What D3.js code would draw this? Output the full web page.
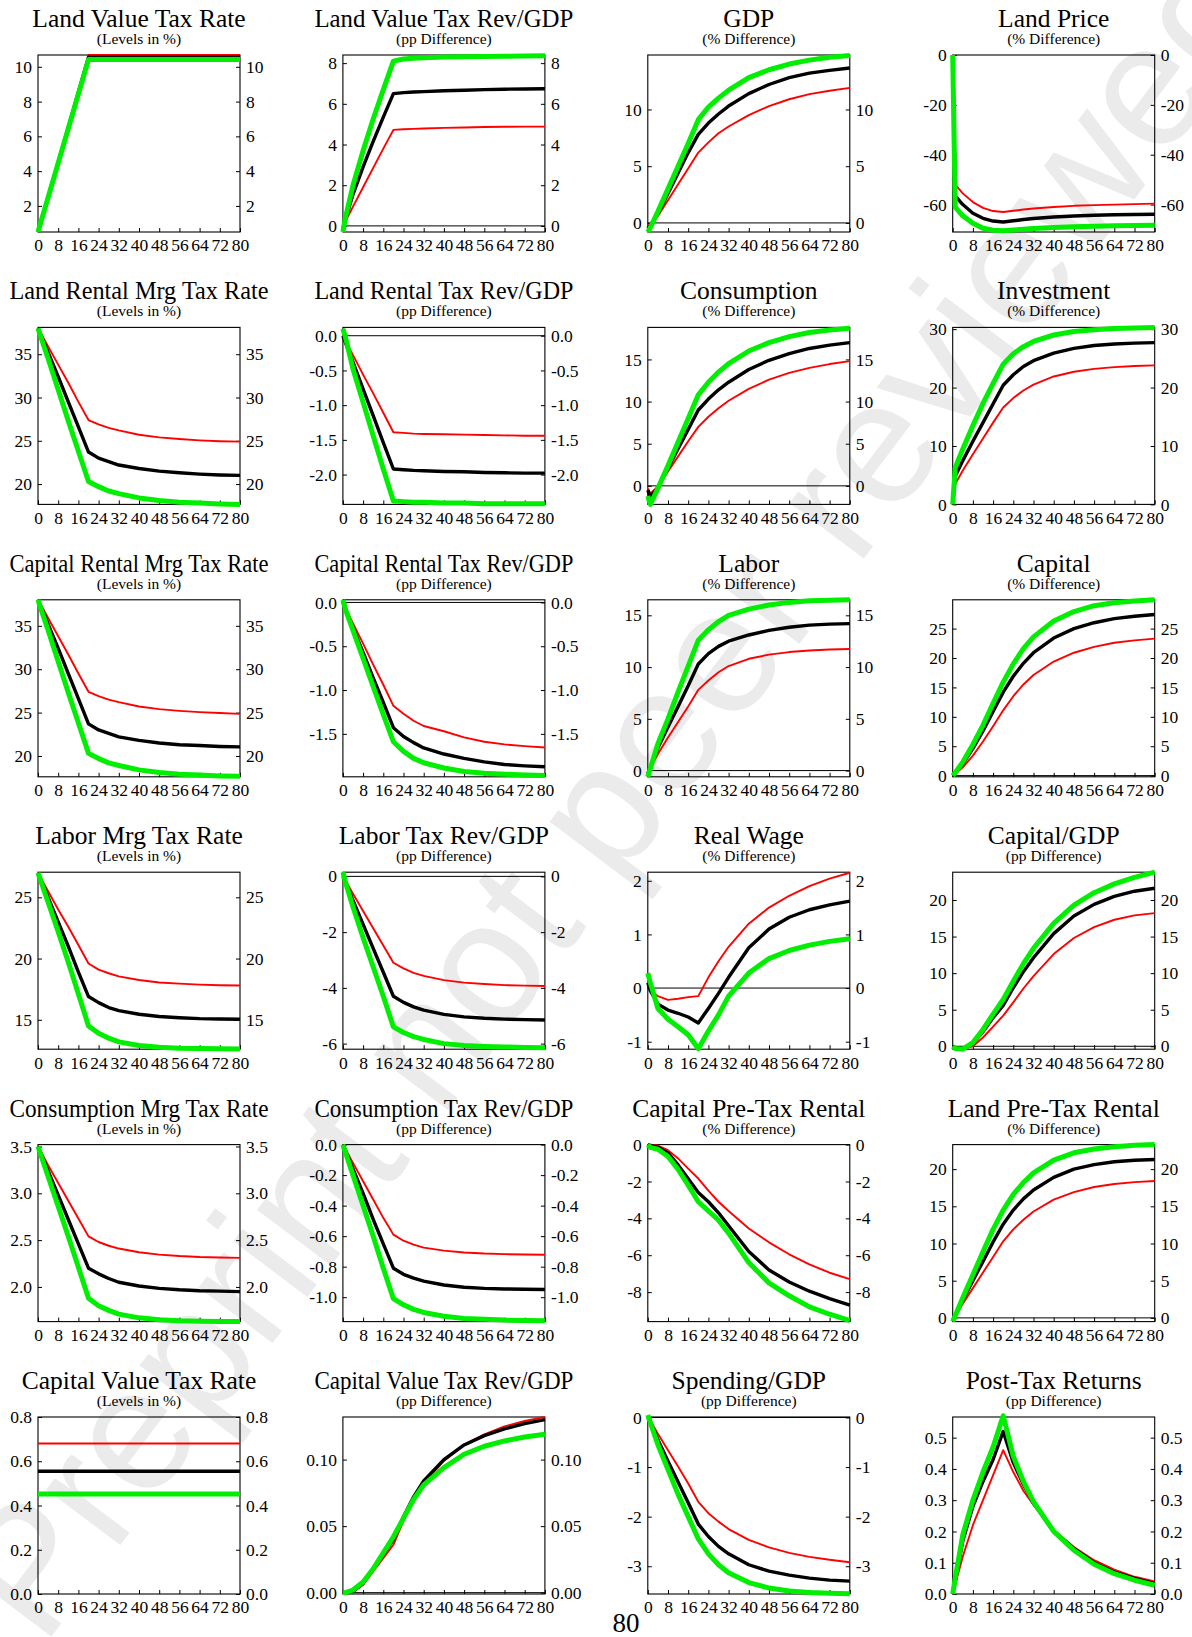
<!DOCTYPE html>
<html>
<head>
<meta charset="utf-8">
<script src="https://cdn.jsdelivr.net/npm/d3@7"></script>
<style>
  html, body { margin: 0; padding: 0; background: #fff; }
  svg { display: block; }
</style>
</head>
<body>
<svg id="chart" width="1192" height="1637"></svg>
<script>
// ---------------- DATA ----------------
const quarters = [0, 1, 4, 8, 12, 16, 20, 24, 28, 32, 40, 48, 56, 64, 72, 80];
const xTickValues = [0, 8, 16, 24, 32, 40, 48, 56, 64, 72, 80];

const titles = [
  "Land Value Tax Rate", "Land Value Tax Rev/GDP", "GDP", "Land Price",
  "Land Rental Mrg Tax Rate", "Land Rental Tax Rev/GDP", "Consumption", "Investment",
  "Capital Rental Mrg Tax Rate", "Capital Rental Tax Rev/GDP", "Labor", "Capital",
  "Labor Mrg Tax Rate", "Labor Tax Rev/GDP", "Real Wage", "Capital/GDP",
  "Consumption Mrg Tax Rate", "Consumption Tax Rev/GDP", "Capital Pre-Tax Rental", "Land Pre-Tax Rental",
  "Capital Value Tax Rate", "Capital Value Tax Rev/GDP", "Spending/GDP", "Post-Tax Returns"
];
const subtitles = [
  "(Levels in %)", "(pp Difference)", "(% Difference)", "(% Difference)",
  "(Levels in %)", "(pp Difference)", "(% Difference)", "(% Difference)",
  "(Levels in %)", "(pp Difference)", "(% Difference)", "(% Difference)",
  "(Levels in %)", "(pp Difference)", "(% Difference)", "(pp Difference)",
  "(Levels in %)", "(pp Difference)", "(% Difference)", "(% Difference)",
  "(Levels in %)", "(pp Difference)", "(pp Difference)", "(pp Difference)"
];
const yDomains = [
  [0.5, 10.68], [-0.3, 8.4], [-0.8, 14.8], [-71, 0],
  [17.65, 38.1], [-2.43, 0.12], [-2.2, 18.8], [0, 30.3],
  [17.6, 38.0], [-1.99, 0.03], [-0.6, 16.5], [-0.2, 29.9],
  [12.6, 27.05], [-6.2, 0.15], [-1.14, 2.16], [-0.4, 23.8],
  [1.63, 3.52], [-1.16, 0], [-9.6, 0], [-0.5, 23.3],
  [0, 0.8], [-0.001, 0.132], [-3.56, 0.01], [0, 0.566]
];
const yTicks = [
  [2, 4, 6, 8, 10], [0, 2, 4, 6, 8], [0, 5, 10], [-60, -40, -20, 0],
  [20, 25, 30, 35], [-2, -1.5, -1, -0.5, 0], [0, 5, 10, 15], [0, 10, 20, 30],
  [20, 25, 30, 35], [-1.5, -1, -0.5, 0], [0, 5, 10, 15], [0, 5, 10, 15, 20, 25],
  [15, 20, 25], [-6, -4, -2, 0], [-1, 0, 1, 2], [0, 5, 10, 15, 20],
  [2, 2.5, 3, 3.5], [-1, -0.8, -0.6, -0.4, -0.2, 0], [-8, -6, -4, -2, 0], [0, 5, 10, 15, 20],
  [0, 0.2, 0.4, 0.6, 0.8], [0, 0.05, 0.1], [-3, -2, -1, 0], [0, 0.1, 0.2, 0.3, 0.4, 0.5]
];
const yTickDecimals = [
  0, 0, 0, 0,
  0, 1, 0, 0,
  0, 1, 0, 0,
  0, 0, 0, 0,
  1, 1, 0, 0,
  1, 2, 0, 1
];

// red series (one row per panel, values at `quarters`)
const redSeries = [
  [0.5, 1.01, 2.54, 4.57, 6.61, 8.64, 10.68, 10.68, 10.68, 10.68, 10.68, 10.68, 10.68, 10.68, 10.68, 10.68],
  [0, 0.22, 0.95, 1.9, 2.85, 3.8, 4.72, 4.75, 4.77, 4.79, 4.82, 4.84, 4.86, 4.87, 4.88, 4.88],
  [-0.3, -0.1, 0.6, 2.0, 3.4, 4.8, 6.2, 7.1, 7.9, 8.5, 9.5, 10.3, 10.9, 11.35, 11.65, 11.9],
  [0, -52, -55.5, -59, -61.3, -62.6, -63, -62.5, -62, -61.6, -61, -60.5, -60.2, -60, -59.8, -59.6],
  [38, 37.5, 35.9, 33.8, 31.7, 29.5, 27.4, 26.9, 26.5, 26.2, 25.7, 25.4, 25.2, 25.05, 24.95, 24.9],
  [0, -0.07, -0.28, -0.56, -0.83, -1.11, -1.39, -1.4, -1.41, -1.415, -1.42, -1.425, -1.43, -1.435, -1.44, -1.44],
  [-0.3, -0.9, -0.1, 1.7, 3.5, 5.3, 7.0, 8.2, 9.2, 10.1, 11.5, 12.6, 13.4, 14.0, 14.45, 14.8],
  [0, 3.5, 5.8, 8.6, 11.3, 14.0, 16.6, 18.2, 19.5, 20.5, 21.9, 22.7, 23.2, 23.5, 23.7, 23.8],
  [38, 37.5, 35.9, 33.8, 31.7, 29.5, 27.4, 26.9, 26.5, 26.2, 25.7, 25.4, 25.2, 25.05, 24.95, 24.85],
  [0, -0.06, -0.24, -0.47, -0.71, -0.94, -1.18, -1.27, -1.35, -1.41, -1.47, -1.54, -1.59, -1.62, -1.64, -1.655],
  [-0.2, 0.2, 1.6, 3.2, 4.7, 6.2, 7.8, 8.7, 9.5, 10.1, 10.8, 11.2, 11.45, 11.6, 11.7, 11.75],
  [0, 0.3, 1.4, 3.4, 5.8, 8.4, 11.1, 13.5, 15.5, 17.1, 19.4, 20.9, 21.9, 22.6, 23.0, 23.3],
  [27, 26.6, 25.5, 24.0, 22.6, 21.1, 19.6, 19.1, 18.8, 18.55, 18.25, 18.05, 17.95, 17.87, 17.82, 17.8],
  [0, -0.15, -0.62, -1.24, -1.86, -2.48, -3.1, -3.3, -3.46, -3.57, -3.72, -3.81, -3.86, -3.9, -3.92, -3.93],
  [0.05, -0.03, -0.15, -0.22, -0.2, -0.17, -0.15, 0.2, 0.5, 0.77, 1.2, 1.5, 1.72, 1.9, 2.04, 2.15],
  [0, -0.1, -0.3, 0.0, 1.2, 2.7, 4.2, 6.0, 7.9, 9.6, 12.6, 14.8, 16.3, 17.3, 17.9, 18.2],
  [3.5, 3.45, 3.3, 3.11, 2.92, 2.73, 2.54, 2.48, 2.44, 2.41, 2.37, 2.345, 2.33, 2.32, 2.315, 2.31],
  [0, -0.03, -0.12, -0.24, -0.36, -0.48, -0.59, -0.63, -0.655, -0.675, -0.695, -0.707, -0.714, -0.718, -0.72, -0.722],
  [0, 0, -0.05, -0.3, -0.75, -1.3, -1.84, -2.5, -3.1, -3.6, -4.55, -5.3, -5.95, -6.5, -6.95, -7.3],
  [-0.2, 0.2, 1.9, 4.0, 6.1, 8.2, 10.3, 11.9, 13.2, 14.3, 15.9, 16.9, 17.6, 18.0, 18.25, 18.4],
  [0.68, 0.68, 0.68, 0.68, 0.68, 0.68, 0.68, 0.68, 0.68, 0.68, 0.68, 0.68, 0.68, 0.68, 0.68, 0.68],
  [0, 0, 0.0005, 0.006, 0.016, 0.026, 0.036, 0.054, 0.069, 0.082, 0.099, 0.111, 0.119, 0.125, 0.129, 0.132],
  [0, -0.06, -0.33, -0.66, -0.99, -1.33, -1.7, -1.93, -2.1, -2.25, -2.47, -2.62, -2.73, -2.81, -2.87, -2.92],
  [0, 0.03, 0.12, 0.22, 0.3, 0.38, 0.46, 0.39, 0.33, 0.285, 0.205, 0.15, 0.108, 0.078, 0.055, 0.04]
];

// black series
const blackSeries = [
  [0.5, 1.0, 2.51, 4.52, 6.53, 8.54, 10.55, 10.55, 10.55, 10.55, 10.55, 10.55, 10.55, 10.55, 10.55, 10.55],
  [-0.1, 0.3, 1.55, 2.9, 4.15, 5.35, 6.5, 6.55, 6.58, 6.6, 6.64, 6.67, 6.7, 6.72, 6.73, 6.74],
  [-0.5, -0.2, 0.8, 2.6, 4.4, 6.2, 7.8, 8.8, 9.6, 10.3, 11.4, 12.2, 12.8, 13.2, 13.45, 13.65],
  [0, -56.5, -60, -63.5, -65.5, -66.6, -67, -66.5, -66, -65.6, -65, -64.6, -64.3, -64.1, -64, -63.9],
  [38, 37.3, 35.2, 32.4, 29.5, 26.6, 23.7, 23.0, 22.6, 22.2, 21.8, 21.5, 21.3, 21.15, 21.05, 21.0],
  [0, -0.1, -0.38, -0.77, -1.15, -1.54, -1.92, -1.93, -1.94, -1.945, -1.955, -1.96, -1.97, -1.975, -1.98, -1.98],
  [-0.5, -1.3, -0.2, 2.1, 4.4, 6.7, 9.0, 10.3, 11.4, 12.3, 13.8, 14.9, 15.7, 16.3, 16.7, 17.0],
  [0, 4.8, 7.5, 10.8, 14.0, 17.2, 20.4, 22.2, 23.6, 24.6, 25.9, 26.7, 27.2, 27.45, 27.6, 27.7],
  [38, 37.3, 35.2, 32.4, 29.5, 26.6, 23.7, 23.0, 22.6, 22.2, 21.8, 21.5, 21.3, 21.2, 21.1, 21.05],
  [0, -0.07, -0.29, -0.57, -0.86, -1.14, -1.43, -1.53, -1.6, -1.66, -1.73, -1.78, -1.82, -1.85, -1.865, -1.875],
  [-0.3, 0.3, 2.2, 4.2, 6.2, 8.2, 10.3, 11.3, 12.0, 12.5, 13.1, 13.55, 13.85, 14.05, 14.15, 14.2],
  [0, 0.4, 2.0, 4.6, 7.6, 10.9, 14.2, 16.9, 19.1, 20.9, 23.4, 25.0, 26.0, 26.7, 27.1, 27.4],
  [27, 26.5, 25.0, 23.0, 21.0, 18.9, 16.9, 16.4, 16.0, 15.75, 15.45, 15.27, 15.17, 15.1, 15.07, 15.05],
  [0, -0.2, -0.86, -1.72, -2.58, -3.44, -4.3, -4.52, -4.68, -4.8, -4.95, -5.04, -5.09, -5.12, -5.14, -5.15],
  [0.1, -0.05, -0.3, -0.41, -0.47, -0.54, -0.65, -0.38, -0.1, 0.2, 0.75, 1.1, 1.32, 1.46, 1.55, 1.62],
  [0, -0.2, -0.3, 0.4, 2.0, 3.9, 5.6, 8.0, 10.2, 12.1, 15.4, 17.8, 19.4, 20.5, 21.2, 21.6],
  [3.5, 3.44, 3.24, 2.98, 2.72, 2.46, 2.2, 2.14, 2.09, 2.05, 2.01, 1.985, 1.97, 1.96, 1.955, 1.95],
  [0, -0.04, -0.16, -0.32, -0.49, -0.65, -0.81, -0.85, -0.875, -0.895, -0.92, -0.935, -0.942, -0.946, -0.948, -0.95],
  [0, -0.05, -0.15, -0.45, -1.1, -1.85, -2.6, -3.1, -3.7, -4.4, -5.8, -6.8, -7.45, -7.95, -8.35, -8.7],
  [-0.3, 0.3, 2.4, 5.0, 7.6, 10.2, 12.6, 14.5, 16.0, 17.2, 18.9, 20.0, 20.6, 21.0, 21.2, 21.3],
  [0.555, 0.555, 0.555, 0.555, 0.555, 0.555, 0.555, 0.555, 0.555, 0.555, 0.555, 0.555, 0.555, 0.555, 0.555, 0.555],
  [0, 0, 0.001, 0.007, 0.018, 0.029, 0.04, 0.057, 0.072, 0.084, 0.1, 0.111, 0.118, 0.123, 0.127, 0.13],
  [0, -0.08, -0.45, -0.88, -1.3, -1.72, -2.15, -2.4, -2.6, -2.75, -2.97, -3.1, -3.18, -3.24, -3.28, -3.3],
  [0, 0.04, 0.17, 0.28, 0.36, 0.43, 0.52, 0.42, 0.35, 0.29, 0.2, 0.145, 0.1, 0.07, 0.05, 0.033]
];

// green series
const greenSeries = [
  [0.5, 1.0, 2.48, 4.47, 6.45, 8.44, 10.42, 10.42, 10.42, 10.42, 10.42, 10.42, 10.42, 10.42, 10.42, 10.42],
  [-0.3, 0.4, 2.0, 3.7, 5.25, 6.7, 8.1, 8.2, 8.24, 8.27, 8.3, 8.32, 8.33, 8.34, 8.35, 8.36],
  [-0.8, -0.4, 1.0, 3.0, 5.0, 7.0, 9.1, 10.2, 11.0, 11.7, 12.8, 13.5, 14.0, 14.35, 14.6, 14.75],
  [0, -61, -64.5, -67.5, -69.5, -70.3, -70.5, -70.2, -69.9, -69.6, -69.2, -68.9, -68.7, -68.5, -68.4, -68.3],
  [38, 37.1, 34.5, 30.9, 27.3, 23.8, 20.3, 19.7, 19.2, 18.9, 18.4, 18.1, 17.9, 17.8, 17.7, 17.65],
  [0.1, -0.02, -0.48, -0.96, -1.44, -1.92, -2.38, -2.39, -2.4, -2.4, -2.41, -2.41, -2.42, -2.42, -2.42, -2.42],
  [-1.2, -2.2, -0.3, 2.4, 5.2, 8.0, 10.8, 12.3, 13.5, 14.5, 16.0, 17.0, 17.7, 18.2, 18.5, 18.7],
  [0, 6.3, 9.5, 13.5, 17.3, 20.7, 24.0, 25.8, 27.0, 27.9, 29.0, 29.6, 29.9, 30.1, 30.2, 30.3],
  [38, 37.1, 34.5, 30.9, 27.3, 23.8, 20.3, 19.7, 19.2, 18.9, 18.4, 18.1, 17.9, 17.8, 17.7, 17.65],
  [0.03, -0.08, -0.32, -0.64, -0.96, -1.28, -1.59, -1.7, -1.78, -1.83, -1.89, -1.93, -1.95, -1.96, -1.97, -1.975],
  [-0.6, 0.2, 2.6, 5.0, 7.6, 10.1, 12.6, 13.6, 14.4, 15.0, 15.6, 16.0, 16.25, 16.4, 16.45, 16.5],
  [0, 0.5, 2.3, 5.3, 8.6, 12.3, 15.9, 19.0, 21.6, 23.6, 26.3, 27.9, 28.9, 29.4, 29.7, 29.9],
  [27, 26.4, 24.6, 22.2, 19.7, 17.1, 14.5, 13.9, 13.5, 13.2, 12.9, 12.75, 12.68, 12.65, 12.63, 12.62],
  [0.15, -0.2, -1.1, -2.2, -3.25, -4.3, -5.4, -5.6, -5.75, -5.85, -6.0, -6.07, -6.1, -6.12, -6.14, -6.15],
  [0.28, 0.1, -0.38, -0.58, -0.72, -0.87, -1.13, -0.8, -0.5, -0.15, 0.28, 0.55, 0.7, 0.8, 0.87, 0.92],
  [0, -0.3, -0.4, 0.5, 2.3, 4.4, 6.4, 8.9, 11.3, 13.4, 16.8, 19.3, 21.0, 22.2, 23.1, 23.8],
  [3.5, 3.42, 3.18, 2.86, 2.54, 2.21, 1.88, 1.8, 1.75, 1.71, 1.67, 1.65, 1.64, 1.635, 1.632, 1.63],
  [0, -0.05, -0.2, -0.4, -0.6, -0.81, -1.01, -1.05, -1.08, -1.1, -1.125, -1.14, -1.145, -1.15, -1.152, -1.155],
  [0, -0.15, -0.25, -0.65, -1.35, -2.2, -3.1, -3.6, -4.1, -4.8, -6.4, -7.5, -8.2, -8.8, -9.2, -9.55],
  [-0.5, 0.3, 2.7, 5.8, 8.9, 11.9, 14.5, 16.6, 18.2, 19.5, 21.2, 22.2, 22.7, 23.0, 23.2, 23.3],
  [0.452, 0.452, 0.452, 0.452, 0.452, 0.452, 0.452, 0.452, 0.452, 0.452, 0.452, 0.452, 0.452, 0.452, 0.452, 0.452],
  [0, 0, 0.002, 0.008, 0.018, 0.03, 0.042, 0.056, 0.07, 0.081, 0.094, 0.104, 0.11, 0.114, 0.117, 0.119],
  [0.05, -0.1, -0.55, -1.05, -1.55, -2.0, -2.45, -2.75, -2.97, -3.13, -3.33, -3.44, -3.5, -3.53, -3.545, -3.555],
  [0, 0.05, 0.19, 0.3, 0.39, 0.47, 0.57, 0.44, 0.36, 0.295, 0.2, 0.14, 0.095, 0.065, 0.044, 0.028]
];

const watermarkText = "Preprint not peer reviewed";
const pageNumber = "80";

// ---------------- DRAWING ----------------
const svg = d3.select("#chart");
const SERIF = "'Liberation Serif', 'Times New Roman', serif";

// watermark (behind)
svg.append("text")
  .attr("transform", "translate(612,792) rotate(-53)")
  .attr("text-anchor", "middle")
  .attr("dominant-baseline", "central")
  .attr("font-family", "'Liberation Sans', Arial, sans-serif")
  .attr("font-size", 175)
  .attr("fill", "#ebebeb")
  .text(watermarkText);

const plotW = 202, plotH = 177;
const colX = c => 38 + c * 304.9;
const rowBottom = r => 232 + r * 272.4;
const maxTitleW = 259;

const seriesStyles = [
  { data: redSeries, color: "#ff0000", width: 1.9 },
  { data: blackSeries, color: "#000000", width: 3.4 },
  { data: greenSeries, color: "#00ee00", width: 5 }
];

titles.forEach((title, i) => {
  const r = Math.floor(i / 4), c = i % 4;
  const left = colX(c), bottom = rowBottom(r), top = bottom - plotH;
  const x = d3.scaleLinear().domain([0, 80]).range([left, left + plotW]);
  const y = d3.scaleLinear().domain(yDomains[i]).range([bottom, top]);
  const g = svg.append("g");

  // titles
  const t = g.append("text")
    .attr("x", left + plotW / 2).attr("y", bottom - 205)
    .attr("text-anchor", "middle")
    .attr("font-family", SERIF).attr("font-size", 25.5).attr("fill", "#000")
    .text(title);
  const tw = t.node().getComputedTextLength();
  if (tw > maxTitleW) {
    t.attr("textLength", maxTitleW).attr("lengthAdjust", "spacingAndGlyphs");
  }
  g.append("text")
    .attr("x", left + plotW / 2).attr("y", bottom - 188)
    .attr("text-anchor", "middle")
    .attr("font-family", SERIF).attr("font-size", 15.5).attr("fill", "#000")
    .text(subtitles[i]);

  // frame
  g.append("rect")
    .attr("x", left).attr("y", top).attr("width", plotW).attr("height", plotH)
    .attr("fill", "none").attr("stroke", "#000").attr("stroke-width", 1.1);

  // zero line
  const [d0, d1] = yDomains[i];
  if (d0 < 0 && d1 > 0) {
    g.append("line")
      .attr("x1", left).attr("x2", left + plotW)
      .attr("y1", y(0)).attr("y2", y(0))
      .attr("stroke", "#000").attr("stroke-width", 1);
  }

  const fmt = v => v.toFixed(yTickDecimals[i]);

  const styleAxis = sel => {
    sel.select(".domain").remove();
    sel.selectAll("text")
      .attr("font-family", SERIF).attr("font-size", 17.5).attr("fill", "#000");
    sel.selectAll("line").attr("stroke", "#000").attr("stroke-width", 1);
  };

  g.append("g").attr("transform", `translate(0,${bottom})`)
    .call(d3.axisBottom(x).tickValues(xTickValues).tickFormat(d3.format("d"))
      .tickSizeInner(-4).tickSizeOuter(0).tickPadding(7))
    .call(styleAxis);

  g.append("g").attr("transform", `translate(${left},0)`)
    .call(d3.axisLeft(y).tickValues(yTicks[i]).tickFormat(fmt)
      .tickSizeInner(-4).tickSizeOuter(0).tickPadding(6))
    .call(styleAxis);

  g.append("g").attr("transform", `translate(${left + plotW},0)`)
    .call(d3.axisRight(y).tickValues(yTicks[i]).tickFormat(fmt)
      .tickSizeInner(-4).tickSizeOuter(0).tickPadding(6))
    .call(styleAxis);

  // lines
  const line = d3.line().x((d, k) => x(quarters[k])).y(d => y(d));
  seriesStyles.forEach(s => {
    g.append("path")
      .datum(s.data[i])
      .attr("d", line)
      .attr("fill", "none")
      .attr("stroke", s.color)
      .attr("stroke-width", s.width)
      .attr("stroke-linejoin", "round")
      .attr("stroke-linecap", "butt");
  });
});

// page number
svg.append("text")
  .attr("x", 626).attr("y", 1632)
  .attr("text-anchor", "middle")
  .attr("font-family", SERIF).attr("font-size", 27).attr("fill", "#000")
  .text(pageNumber);
</script>
</body>
</html>
